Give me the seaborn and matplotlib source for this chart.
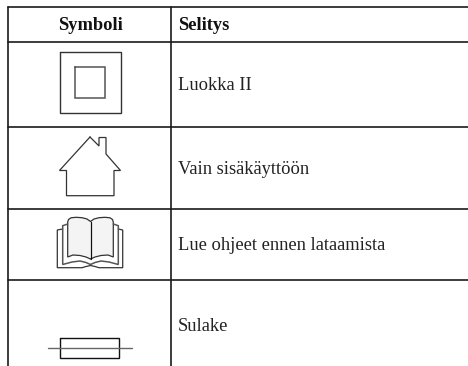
import pandas as pd
import seaborn as sns
import matplotlib.pyplot as plt

# table text
otsikot = ["Symboli", "Selitys"]
selitykset = ["Luokka II", "Vain sisäkäyttöön", "Lue ohjeet ennen lataamista", "Sulake"]
selitys_y = [90, 174, 250, 331]

# table rules, in pixels of the picture
vaaka_y = [7, 41.5, 127, 209, 280]
pysty_x = [8, 171]

# symbols, outlines in pixels
nelio_ulko_x = [59.5, 120.5, 120.5, 59.5, 59.5]
nelio_ulko_y = [51.5, 51.5, 113, 113, 51.5]
nelio_sisa_x = [74.5, 105, 105, 74.5, 74.5]
nelio_sisa_y = [66.5, 66.5, 98, 98, 66.5]
talo_x = [90, 99, 99, 106, 106, 120.5, 114, 114, 66.5, 66.5, 59.5, 90]
talo_y = [137, 146, 137.5, 137.5, 154, 170.5, 170.5, 195.7, 195.7, 170.5, 170.5, 137]
sulake_x = [60, 118.5, 118.5, 60, 60]
sulake_y = [338.3, 338.3, 357.7, 357.7, 338.3]
johto_x = [48, 132]
johto_y = [347.7, 347.7]

# book
kirja_ulko_x = [62.7, 57.3, 57.3, 82, 86, 90.5, 95, 99, 122.7, 122.7, 118.3]
kirja_ulko_y = [229, 230, 267.7, 267.7, 266.5, 265.5, 266.5, 267.7, 267.7, 230, 229]
kirja_vasen_x = [90.5, 87, 82, 76, 71, 68.5, 67.7, 67.7, 73, 80, 86, 90.5]
kirja_vasen_y = [221.5, 219, 217.7, 217.3, 217.8, 219.5, 222, 257, 255, 255.5, 257, 259]
kirja_oikea_x = [90.5, 94, 99, 105, 110, 112.5, 113.3, 113.3, 108, 101, 95, 90.5]
kirja_oikea_y = [221.5, 219, 217.7, 217.3, 217.8, 219.5, 222, 257, 255, 255.5, 257, 259]
kirja_sivu_v_x = [67.7, 62.7, 62.7, 72, 80, 86, 90.5]
kirja_sivu_v_y = [224, 225.7, 264.5, 262, 261, 262.5, 264.5]
kirja_sivu_o_x = [113.3, 118.3, 118.3, 109, 101, 95, 90.5]
kirja_sivu_o_y = [224, 225.7, 264.5, 262, 261, 262.5, 264.5]
selka_x = [90.5, 90.5]
selka_y = [221.5, 259]


def piirra(ax, x, y, lw=1.0, color="#333333"):
    df = pd.DataFrame({"x": x, "y": y})
    sns.lineplot(data=df, x="x", y="y", estimator=None, sort=False, ax=ax,
                 lw=lw, color=color, legend=False, solid_joinstyle="miter")


sns.set_theme(style="white")
plt.rcParams["font.family"] = ["Liberation Serif", "DejaVu Serif"]

fig = plt.figure(figsize=(4.68, 3.66), dpi=100)
ax = fig.add_axes([0, 0, 1, 1])

# rules
for y in vaaka_y:
    piirra(ax, [8, 468], [y, y], lw=1.2, color="#1a1a1a")
for x in pysty_x:
    piirra(ax, [x, x], [7, 366], lw=1.2, color="#1a1a1a")

# header
ax.text(90, 30, otsikot[0], ha="center", va="baseline", fontsize=13.3, fontweight="bold", color="#111111")
ax.text(178, 30, otsikot[1], ha="left", va="baseline", fontsize=13.3, fontweight="bold", color="#111111")

# rows
for teksti, y in zip(selitykset, selitys_y):
    ax.text(178, y, teksti, ha="left", va="baseline", fontsize=13.3, color="#222222")

# symbols
piirra(ax, nelio_ulko_x, nelio_ulko_y)
piirra(ax, nelio_sisa_x, nelio_sisa_y, color="#555555", lw=1.1)
piirra(ax, talo_x, talo_y, lw=0.9)
piirra(ax, sulake_x, sulake_y, color="#111111")
piirra(ax, johto_x, johto_y, color="#666666")

ax.fill(kirja_vasen_x, kirja_vasen_y, color="#f4f4f4", lw=0)
ax.fill(kirja_oikea_x, kirja_oikea_y, color="#f4f4f4", lw=0)
piirra(ax, kirja_ulko_x, kirja_ulko_y, lw=0.9)
piirra(ax, kirja_vasen_x, kirja_vasen_y, lw=0.9)
piirra(ax, kirja_oikea_x, kirja_oikea_y, lw=0.9)
piirra(ax, kirja_sivu_v_x, kirja_sivu_v_y, lw=1.1, color="#555555")
piirra(ax, kirja_sivu_o_x, kirja_sivu_o_y, lw=1.1, color="#555555")
piirra(ax, selka_x, selka_y, lw=0.9, color="#111111")

ax.set_xlim(0, 468)
ax.set_ylim(366, 0)
ax.axis("off")

fig.savefig("out.png", dpi=100)
